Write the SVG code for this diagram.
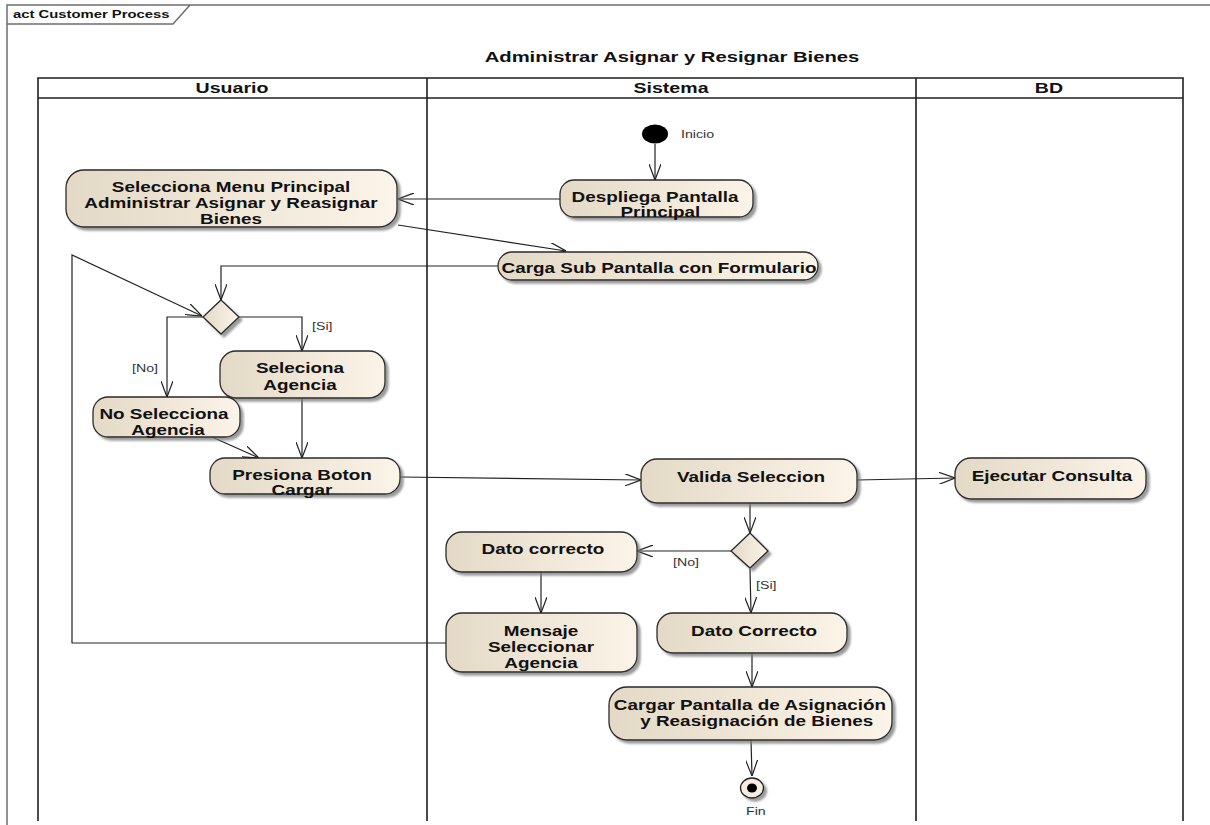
<svg xmlns="http://www.w3.org/2000/svg" width="1210" height="825" viewBox="0 0 1210 825">
  <defs>
    <linearGradient id="fill" x1="0" y1="0" x2="1" y2="0">
      <stop offset="0" stop-color="#e3d9c6"/>
      <stop offset="1" stop-color="#fbf4e8"/>
    </linearGradient>
    <filter id="shadow" x="-10%" y="-20%" width="130%" height="160%">
      <feDropShadow dx="3" dy="3" stdDeviation="1.2" flood-color="#7a7a7a" flood-opacity="0.75"/>
    </filter>
    <marker id="arrow" viewBox="0 0 16 12" refX="16" refY="6" markerWidth="16" markerHeight="12" markerUnits="userSpaceOnUse" orient="auto">
      <path d="M0,0 L16,6 L0,12" fill="none" stroke="#222" stroke-width="1.2"/>
    </marker>
  </defs>
  <style>
    .frame { fill: none; stroke: #6e6e6e; stroke-width: 1.5; }
    .lane { fill: none; stroke: #1e1e1e; stroke-width: 1.6; }
    .node { fill: url(#fill); stroke: #2a2a2a; stroke-width: 1.3; filter: url(#shadow); }
    .lbl { font-family: "Liberation Sans", Arial, sans-serif; font-weight: bold; font-size: 14px; fill: #111; text-anchor: middle; }
    .hdr { font-family: "Liberation Sans", Arial, sans-serif; font-weight: bold; font-size: 14.5px; fill: #111; text-anchor: middle; }
    .small { font-family: "Liberation Sans", Arial, sans-serif; font-size: 10.5px; fill: #333; }
    .edge { fill: none; stroke: #222; stroke-width: 1.2; marker-end: url(#arrow); }
    .line { fill: none; stroke: #222; stroke-width: 1.2; }
  </style>

  <rect width="1210" height="825" fill="#ffffff"/>

  <!-- diagram frame with name tab -->
  <g id="frame">
    <path class="frame" d="M7,825 L7,5 L1212,5"/>
    <path class="frame" d="M7,24 L173,24 L190,5"/>
    <text class="lbl" style="font-size:11px;text-anchor:start" transform="translate(13,18) scale(1.35,1)">act Customer Process</text>
  </g>

  <text class="lbl" style="font-size:15px" transform="translate(672,62) scale(1.35,1)">Administrar Asignar y Resignar Bienes</text>

  <!-- swimlanes -->
  <g id="lanes">
    <path class="lane" d="M38,821 L38,78 L1183,78 L1183,821"/>
    <line class="lane" x1="38" y1="98" x2="1183" y2="98"/>
    <line class="lane" x1="427" y1="78" x2="427" y2="821"/>
    <line class="lane" x1="916" y1="78" x2="916" y2="821"/>
    <text class="hdr" transform="translate(232,93) scale(1.35,1)">Usuario</text>
    <text class="hdr" transform="translate(671,93) scale(1.35,1)">Sistema</text>
    <text class="hdr" transform="translate(1049,93) scale(1.35,1)">BD</text>
  </g>

  <!-- control flows -->
  <g id="connectors">
    <line class="edge" x1="655" y1="144" x2="655" y2="180"/>
    <line class="edge" x1="560" y1="199" x2="398" y2="199"/>
    <line class="edge" x1="398" y1="225" x2="566" y2="251"/>
    <polyline class="edge" points="498,266 221,266 221,300"/>
    <polyline class="edge" points="446,643 72,643 72,255 202,316"/>
    <polyline class="edge" points="203,317 167,317 167,397"/>
    <polyline class="edge" points="239,317 302,317 302,351"/>
    <line class="edge" x1="212" y1="437" x2="259" y2="458"/>
    <line class="edge" x1="302" y1="398" x2="302" y2="458"/>
    <line class="edge" x1="400" y1="477" x2="641" y2="480"/>
    <line class="edge" x1="857" y1="480" x2="955" y2="478"/>
    <line class="edge" x1="750" y1="503" x2="750" y2="533"/>
    <line class="edge" x1="731" y1="551" x2="637" y2="551"/>
    <line class="edge" x1="750" y1="569" x2="751" y2="613"/>
    <line class="edge" x1="541" y1="572" x2="541" y2="613"/>
    <line class="edge" x1="752" y1="653" x2="752" y2="687"/>
    <line class="edge" x1="751" y1="740" x2="752" y2="776"/>
    <text class="small" transform="translate(132,372) scale(1.35,1)">[No]</text>
    <text class="small" transform="translate(312,330) scale(1.35,1)">[Si]</text>
    <text class="small" transform="translate(673,566) scale(1.35,1)">[No]</text>
    <text class="small" transform="translate(756,589) scale(1.35,1)">[Si]</text>
  </g>

  <g id="inicio">
    <ellipse cx="655" cy="134" rx="13" ry="9.5" fill="#000"/>
    <text class="small" transform="translate(681,138) scale(1.35,1)">Inicio</text>
  </g>

  <g id="despliega">
    <rect class="node" x="560" y="180" width="193" height="37" rx="14"/>
    <text class="lbl" transform="translate(655,202) scale(1.35,1)">Despliega Pantalla<tspan x="4" dy="15">Principal</tspan></text>
  </g>

  <g id="selecciona-menu">
    <rect class="node" x="66" y="170" width="331" height="57" rx="18"/>
    <text class="lbl" transform="translate(231,192) scale(1.35,1)">Selecciona Menu Principal<tspan x="0" dy="16.5">Administrar Asignar y Reasignar</tspan><tspan x="0" dy="16">Bienes</tspan></text>
  </g>

  <g id="carga-sub">
    <rect class="node" x="498" y="252" width="320" height="28" rx="14"/>
    <text class="lbl" transform="translate(659,273) scale(1.35,1)">Carga Sub Pantalla con Formulario</text>
  </g>

  <g id="decision-agencia">
    <polygon class="node" points="221,300 239,317 221,334 203,317"/>
  </g>

  <g id="seleciona-agencia">
    <rect class="node" x="220" y="351" width="165" height="47" rx="16"/>
    <text class="lbl" transform="translate(300,373) scale(1.35,1)">Seleciona<tspan x="0" dy="17">Agencia</tspan></text>
  </g>

  <g id="no-selecciona">
    <rect class="node" x="93" y="397" width="147" height="40" rx="15"/>
    <text class="lbl" transform="translate(164,419) scale(1.35,1)">No Selecciona<tspan x="3" dy="16">Agencia</tspan></text>
  </g>

  <g id="presiona-boton">
    <rect class="node" x="210" y="458" width="190" height="36" rx="15"/>
    <text class="lbl" transform="translate(302,480) scale(1.35,1)">Presiona Boton<tspan x="0" dy="15">Cargar</tspan></text>
  </g>

  <g id="valida-seleccion">
    <rect class="node" x="641" y="459" width="216" height="44" rx="16"/>
    <text class="lbl" transform="translate(751,482) scale(1.35,1)">Valida Seleccion</text>
  </g>

  <g id="ejecutar-consulta">
    <rect class="node" x="955" y="458" width="191" height="41" rx="16"/>
    <text class="lbl" transform="translate(1052,481) scale(1.35,1)">Ejecutar Consulta</text>
  </g>

  <g id="decision-dato">
    <polygon class="node" points="750,533 768,551 750,568 731,551"/>
  </g>

  <g id="dato-correcto-no">
    <rect class="node" x="446" y="532" width="191" height="40" rx="16"/>
    <text class="lbl" transform="translate(543,554) scale(1.35,1)">Dato correcto</text>
  </g>

  <g id="mensaje">
    <rect class="node" x="446" y="613" width="191" height="59" rx="16"/>
    <text class="lbl" transform="translate(541,636) scale(1.35,1)">Mensaje<tspan x="0" dy="16">Seleccionar</tspan><tspan x="0" dy="16">Agencia</tspan></text>
  </g>

  <g id="dato-correcto-si">
    <rect class="node" x="657" y="613" width="190" height="40" rx="16"/>
    <text class="lbl" transform="translate(754,636) scale(1.35,1)">Dato Correcto</text>
  </g>

  <g id="cargar-pantalla">
    <rect class="node" x="609" y="687" width="283" height="53" rx="18"/>
    <text class="lbl" transform="translate(750,710) scale(1.35,1)">Cargar Pantalla de Asignación<tspan x="5" dy="16">y Reasignación de Bienes</tspan></text>
  </g>

  <g id="fin">
    <ellipse cx="752" cy="788" rx="11.5" ry="10" fill="#f6eee0" stroke="#222" stroke-width="1.3" filter="url(#shadow)"/>
    <ellipse cx="752" cy="788" rx="5" ry="4.5" fill="#000"/>
    <text class="small" transform="translate(746,815) scale(1.35,1)">Fin</text>
  </g>
</svg>
